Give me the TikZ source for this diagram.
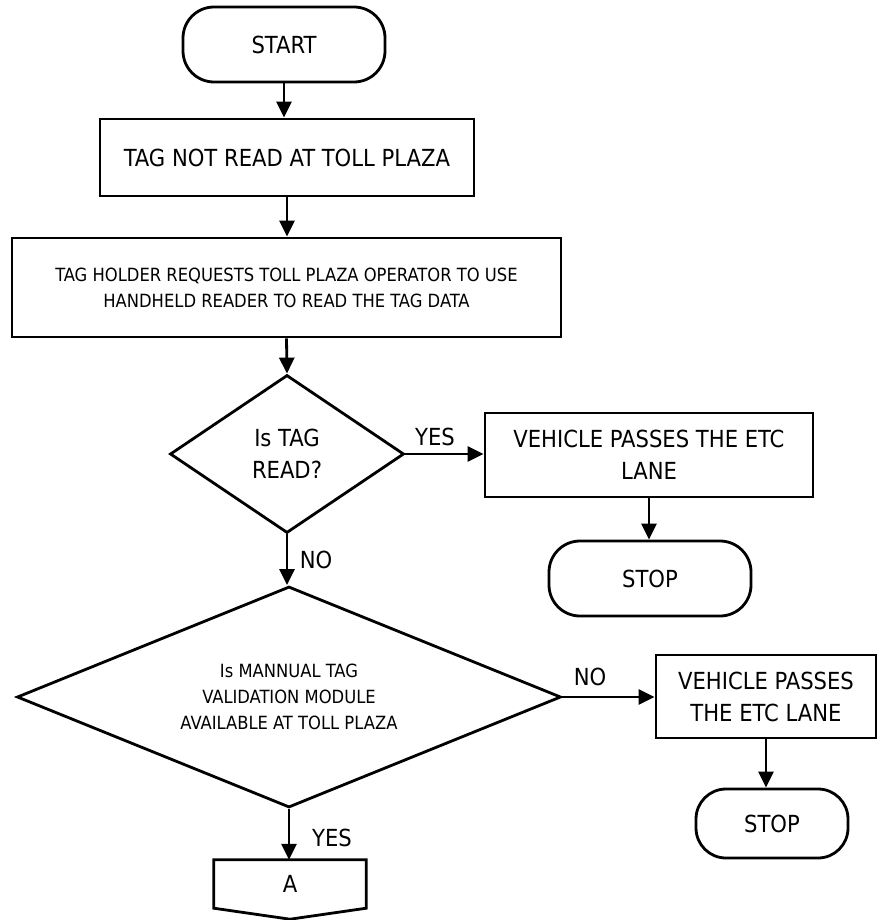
\documentclass[tikz,border=0pt]{standalone}
\usepackage{fontspec}
\setmainfont{DejaVu Sans Condensed}
\usetikzlibrary{shapes.geometric,arrows.meta}

\begin{document}
\begin{tikzpicture}[x=1pt,y=-1pt,
  every node/.style={inner sep=0pt, align=center},
  big/.style={font=\fontsize{23.5}{32}\selectfont},
  small/.style={font=\fontsize{18.2}{26}\selectfont},
  outline/.style={draw, line width=2.8pt},
  terminal/.style={outline, big, rectangle, rounded corners=31pt},
  process/.style={outline, rectangle},
  decision/.style={outline, diamond},
  flow/.style={line width=2.8pt, -{Triangle[width=15pt,length=16pt]}},
  lbl/.style={big}
]
\useasboundingbox (0,0) rectangle (878,920);

% main column
\node[terminal, minimum width=202pt, minimum height=75pt] (start) at (284,44.5) {START};
\node[process, big, minimum width=374pt, minimum height=77pt] (read) at (287,157.5)
  {TAG NOT READ AT TOLL PLAZA};
\node[process, small, minimum width=549pt, minimum height=99pt] (request) at (286.5,287.5)
  {TAG HOLDER REQUESTS TOLL PLAZA OPERATOR TO USE\\HANDHELD READER TO READ THE TAG DATA};
\node[decision, big, aspect=1.48, minimum width=234pt, minimum height=158pt] (isread) at (287,454)
  {Is TAG\\READ?};
\node[decision, small, aspect=2.46, minimum width=544pt, minimum height=221pt] (manual) at (289,697)
  {Is MANNUAL TAG\\VALIDATION MODULE\\AVAILABLE AT TOLL PLAZA};

% off-page connector A
\node[big, minimum width=152pt, minimum height=48pt] (conn) at (290,884) {A};
\draw[line width=2.8pt, line join=miter]
  (conn.north west) -- (conn.north east) -- (conn.south east)
  -- ([yshift=-11pt]conn.south) -- (conn.south west) -- cycle;

% right branches
\node[process, big, minimum width=328pt, minimum height=84pt] (pass1) at (649,455)
  {VEHICLE PASSES THE ETC\\LANE};
\node[terminal, minimum width=202pt, minimum height=75pt] (stop1) at (650,578.5) {STOP};
\node[process, big, minimum width=220pt, minimum height=83pt] (pass2) at (766,696.5)
  {VEHICLE PASSES\\THE ETC LANE};
\node[terminal, minimum width=152pt, minimum height=69pt, rounded corners=30pt] (stop2) at (772,823.5) {STOP};

% connectors
\draw[flow] (start.south) -- (start.south |- read.north);
\draw[flow] (read.south) -- (read.south |- request.north);
\draw[flow] (request.south) -- (isread.north);
\draw[flow] (isread.east) -- (pass1.west |- isread.east);
\draw[flow] (pass1.south) -- (pass1.south |- stop1.north);
\draw[flow] (isread.south) -- (isread.south |- manual.north);
\draw[flow] (manual.east) -- (pass2.west |- manual.east);
\draw[flow] (pass2.south) -- (pass2.south |- stop2.north);
\draw[flow] (manual.south) -- (manual.south |- conn.north);

% branch labels
\node[lbl] (yes1) at (435,437) {YES};
\node[lbl] (no1) at (316,560) {NO};
\node[lbl] (no2) at (590,677) {NO};
\node[lbl] (yes2) at (332,838) {YES};
\end{tikzpicture}
\end{document}
